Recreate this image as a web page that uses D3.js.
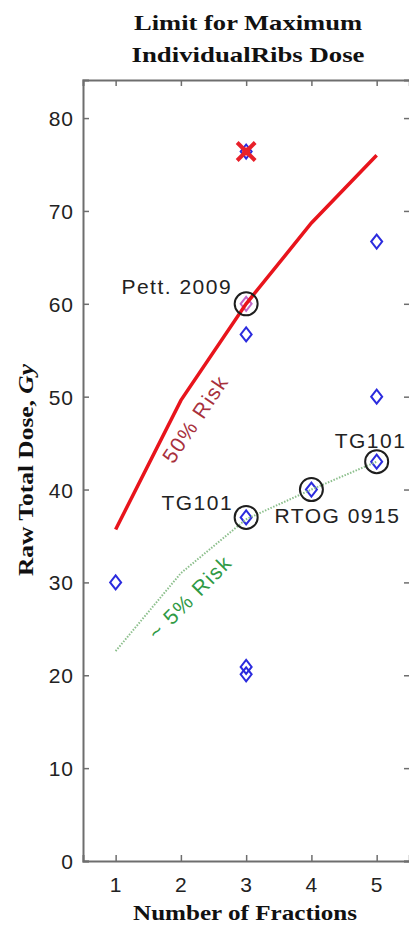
<!DOCTYPE html>
<html>
<head>
<meta charset="utf-8">
<script src="https://cdn.jsdelivr.net/npm/d3@7"></script>
<style>
	body { margin: 0; background: #fff; }
	svg { display: block; }
	.tick-label { font-family: "Liberation Sans", Arial, sans-serif; font-size: 21px; fill: #222; letter-spacing: 1px; }
	.note { font-family: "Liberation Sans", Arial, sans-serif; font-size: 21px; fill: #222; letter-spacing: 1.5px; }
	.serif { font-family: "Liberation Serif", "Times New Roman", serif; font-weight: bold; fill: #111; }
</style>
</head>
<body>
<div id="chart"></div>
<script>
let WIDTH = 409;
let HEIGHT = 927;

// data
let fractions = [1, 2, 3, 4, 5];
let risk50 = [35.7, 49.6, 60, 68.7, 76];
let risk5 = [22.6, 31, 36.8, 40, 43];

let studyFx = [1, 3, 3, 3, 3, 3, 4, 5, 5, 5];
let studyDose = [30, 76.4, 56.7, 37, 20.9, 20.1, 40, 66.7, 50, 43];

let pettFx = [3];
let pettDose = [60];

let excludedFx = [3];
let excludedDose = [76.4];

let circledFx = [3, 3, 4, 5];
let circledDose = [60, 37, 40, 43];

let noteText = ['Pett. 2009', 'TG101', 'RTOG 0915', 'TG101'];
let noteFx = [3, 3, 4, 5];
let noteDose = [60, 37, 40, 43];

let xTicks = [1, 2, 3, 4, 5];
let yTicks = [0, 10, 20, 30, 40, 50, 60, 70, 80];

let titleLines = ['Limit for Maximum', 'IndividualRibs Dose'];
let xTitle = 'Number of Fractions';

let plotLeft = 83, plotRight = 410, plotTop = 80, plotBottom = 861;

let x = d3.scaleLinear().domain([0.5, 5.5]).range([plotLeft, 409.3]);
let y = d3.scaleLinear().domain([0, 84.1]).range([plotBottom, plotTop]);

let svg = d3.select('#chart').append('svg')
	.attr('width', WIDTH)
	.attr('height', HEIGHT);

// titles
svg.selectAll('.title')
	.data(titleLines)
	.enter().append('text')
	.attr('class', 'serif title')
	.attr('x', 248)
	.attr('y', (d, i) => 30 + i * 31.5)
	.attr('text-anchor', 'middle')
	.attr('font-size', 22)
	.attr('textLength', (d, i) => i === 0 ? 228 : 233)
	.attr('lengthAdjust', 'spacingAndGlyphs')
	.text(d => d);

let yTitle = svg.append('text')
	.attr('class', 'serif')
	.attr('font-size', 21)
	.attr('text-anchor', 'middle')
	.attr('transform', 'translate(33,470) rotate(-90)')
	.attr('textLength', 212)
	.attr('lengthAdjust', 'spacingAndGlyphs');
yTitle.append('tspan').text('Raw Total Dose, ');
yTitle.append('tspan').attr('font-style', 'italic').text('Gy');

svg.append('text')
	.attr('class', 'serif')
	.attr('font-size', 21)
	.attr('x', 245)
	.attr('y', 920)
	.attr('text-anchor', 'middle')
	.attr('textLength', 224)
	.attr('lengthAdjust', 'spacingAndGlyphs')
	.text(xTitle);

// axes box, MATLAB style ticks pointing in
let axisColor = '#6e6e6e';
let g = svg.append('g');

let bottomAxis = g.append('g')
	.attr('transform', `translate(0,${plotBottom})`)
	.call(d3.axisBottom(x).tickValues(xTicks).tickSize(-6).tickPadding(12).tickFormat(d3.format('d')));
let topAxis = g.append('g')
	.attr('transform', `translate(0,${plotTop})`)
	.call(d3.axisTop(x).tickValues(xTicks).tickSize(-6).tickFormat(''));
let leftAxis = g.append('g')
	.attr('transform', `translate(${plotLeft},0)`)
	.call(d3.axisLeft(y).tickValues(yTicks).tickSize(-6).tickPadding(9).tickFormat(d3.format('d')));
let rightAxis = g.append('g')
	.attr('transform', `translate(${plotRight},0)`)
	.call(d3.axisRight(y).tickValues(yTicks).tickSize(-6).tickFormat(''));

[bottomAxis, topAxis, leftAxis, rightAxis].forEach(a => {
	a.attr('font-size', null).attr('font-family', null);
	a.select('.domain').attr('stroke', axisColor).attr('stroke-width', 2);
	a.selectAll('.tick line').attr('stroke', axisColor).attr('stroke-width', 1.5);
	a.selectAll('.tick text').attr('class', 'tick-label');
});
bottomAxis.selectAll('.tick text').attr('dy', '0.9em');
leftAxis.selectAll('.tick text').attr('dy', '0.36em');

let plot = svg.append('g');

// blue diamonds
let diamond = (cx, cy) => `M${cx},${cy - 7}L${cx + 5.5},${cy}L${cx},${cy + 7}L${cx - 5.5},${cy}Z`;

plot.selectAll('.study')
	.data(studyFx)
	.enter().append('path')
	.attr('d', (d, i) => diamond(x(d), y(studyDose[i])))
	.attr('fill', 'none')
	.attr('stroke', '#2b2bde')
	.attr('stroke-width', 2);

plot.selectAll('.pett')
	.data(pettFx)
	.enter().append('path')
	.attr('d', (d, i) => diamond(x(d), y(pettDose[i])))
	.attr('fill', 'none')
	.attr('stroke', '#c068c8')
	.attr('stroke-width', 2);

// risk curves
let line = d3.line()
	.x((d, i) => x(fractions[i]))
	.y(d => y(d));

plot.append('path')
	.datum(risk5)
	.attr('d', line)
	.attr('fill', 'none')
	.attr('stroke', '#8cbf8c')
	.attr('stroke-width', 2)
	.attr('stroke-dasharray', '1.5,1.5');

plot.append('path')
	.datum(risk50)
	.attr('d', line)
	.attr('fill', 'none')
	.attr('stroke', '#e8141c')
	.attr('stroke-width', 3.5);

// excluded point
plot.selectAll('.excluded')
	.data(excludedFx)
	.enter().append('g')
	.attr('transform', (d, i) => `translate(${x(d)},${y(excludedDose[i])})`)
	.each(function () {
		let m = d3.select(this);
		m.append('path')
			.attr('d', 'M-9,-9L9,9M-9,9L9,-9')
			.attr('stroke', '#e8202a')
			.attr('stroke-width', 4);
		m.append('circle')
			.attr('r', 4)
			.attr('fill', '#e8202a');
	});

// circled studies
plot.selectAll('.ring')
	.data(circledFx)
	.enter().append('circle')
	.attr('cx', d => x(d))
	.attr('cy', (d, i) => y(circledDose[i]))
	.attr('r', 11.5)
	.attr('fill', 'none')
	.attr('stroke', '#1e1e1e')
	.attr('stroke-width', 2);

// study labels
let noteOffset = [[-14, -10, 'end'], [-13, -7, 'end'], [-37, 33, 'start'], [-42, -14, 'start']];

plot.selectAll('.note')
	.data(noteText)
	.enter().append('text')
	.attr('class', 'note')
	.attr('x', (d, i) => x(noteFx[i]) + noteOffset[i][0])
	.attr('y', (d, i) => y(noteDose[i]) + noteOffset[i][1])
	.attr('text-anchor', (d, i) => noteOffset[i][2])
	.text(d => d);

// curve labels, rotated along the curve
let slope = (arr, a, b) => Math.atan2(y(arr[b]) - y(arr[a]), x(fractions[b]) - x(fractions[a])) * 180 / Math.PI;

plot.append('text')
	.attr('class', 'note')
	.style('fill', '#a8303c')
	.attr('text-anchor', 'middle')
	.attr('dy', '0.35em')
	.attr('transform', `translate(${x(2.22)},${y(47.6)}) rotate(${slope(risk50, 1, 2)})`)
	.text('50% Risk');

plot.append('text')
	.attr('class', 'note')
	.style('fill', '#2f9a45')
	.attr('text-anchor', 'middle')
	.attr('dy', '0.35em')
	.attr('transform', `translate(${x(2.14)},${y(28.4)}) rotate(${slope(risk5, 0, 2)})`)
	.text('~ 5% Risk');
</script>
</body>
</html>
